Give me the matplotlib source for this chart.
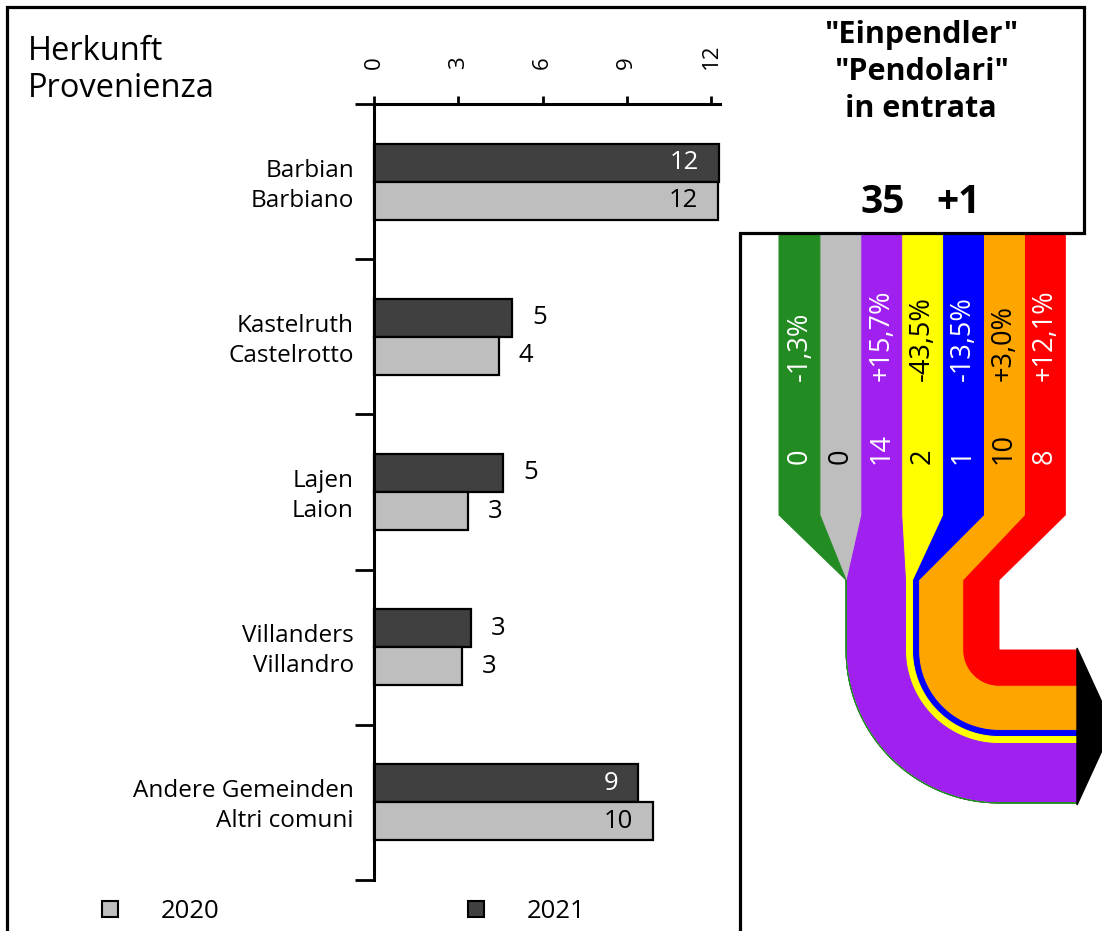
import numpy as np
import matplotlib
matplotlib.use("Agg")
import matplotlib.pyplot as plt
from matplotlib.patches import Polygon, Rectangle

plt.rcParams["font.family"] = ["Open Sans", "DejaVu Sans"]

# bar chart: origin of commuters
places_de = ["Barbian", "Kastelruth", "Lajen", "Villanders", "Andere Gemeinden"]
places_it = ["Barbiano", "Castelrotto", "Laion", "Villandro", "Altri comuni"]
val_2020 = [12.24, 4.45, 3.35, 3.13, 9.93]
val_2021 = [12.28, 4.91, 4.59, 3.45, 9.40]
x_ticks = [0, 3, 6, 9, 12]
years = ["2020", "2021"]

# flow diagram: incoming commuters by band
flow_colors = ["#228B22", "#BEBEBE", "#A020F0", "#FFFF00", "#0000FF", "#FFA500", "#FF0000"]
flow_text = ["white", "black", "white", "black", "white", "black", "white"]
flow_values = [0, 0, 13.6, 1.6, 1.4, 10.1, 8.3]
flow_change = ["-1,3%", "", "+15,7%", "-43,5%", "-13,5%", "+3,0%", "+12,1%"]
total_2021 = 35
total_change = "+1"

DARK, LIGHT = "#404040", "#BEBEBE"
W, H = 1102, 931

fig = plt.figure(figsize=(W / 100, H / 100), dpi=100)

# overlay in pixel coordinates for frame, titles and the flow diagram
ov = fig.add_axes([0, 0, 1, 1], zorder=0)
ov.set_xlim(0, W)
ov.set_ylim(H, 0)
ov.axis("off")

ov.plot([7, 7, 1084, 1084, 740, 740], [H + 5, 7, 7, 233, 233, H + 5],
        color="black", lw=2.3, solid_joinstyle="miter")

ov.text(28, 60, "Herkunft", fontsize=23.5, va="baseline")
ov.text(28, 97, "Provenienza", fontsize=23.5, va="baseline")

ov.text(921, 43, '"Einpendler"', fontsize=22, fontweight="bold", ha="center", va="baseline")
ov.text(921, 80, '"Pendolari"', fontsize=22, fontweight="bold", ha="center", va="baseline")
ov.text(921, 117, "in entrata", fontsize=22, fontweight="bold", ha="center", va="baseline")
ov.text(883, 213, str(total_2021), fontsize=28, fontweight="bold", ha="center", va="baseline")
ov.text(959, 213, total_change, fontsize=28, fontweight="bold", ha="center", va="baseline")

# flow bands
top_y, straight_y, merge_y, bend_y = 235, 515, 580, 650
band_left, band_w = 779, 40.9
cx, end_x = 999, 1077
scale = 4.37
start = cx - scale * sum(flow_values)
t = np.linspace(0, np.pi / 2, 60)

polys = []
cum = start
for i, v in enumerate(flow_values):
    xl = band_left + i * band_w
    xr = xl + band_w
    bl, br = cum, cum + scale * v
    cum = br
    r_out, r_in = cx - bl, cx - br
    inner = list(zip(cx - r_in * np.cos(t), bend_y + r_in * np.sin(t)))
    outer = list(zip(cx - r_out * np.cos(t), bend_y + r_out * np.sin(t)))[::-1]
    pts = ([(xl, top_y), (xr, top_y), (xr, straight_y), (br, merge_y), (br, bend_y)]
           + inner + [(end_x, bend_y + r_in), (end_x, bend_y + r_out)]
           + outer + [(bl, merge_y), (xl, straight_y)])
    polys.append(pts)

for pts, c in reversed(list(zip(polys, flow_colors))):
    ov.add_patch(Polygon(pts, closed=True, fc=c, ec=c, lw=0.7))

r_max = cx - start
mid = bend_y + r_max / 2
ov.add_patch(Polygon([(end_x, bend_y - 2), (end_x + 36, mid), (end_x, bend_y + r_max + 2)],
                     closed=True, fc="black", ec="black", lw=1))

for i, (v, ch, tc) in enumerate(zip(flow_values, flow_change, flow_text)):
    xc = band_left + (i + 0.5) * band_w
    if ch:
        ov.text(xc, 381, ch, rotation=90, ha="center", va="bottom", color=tc, fontsize=19.5)
    ov.text(xc, 464, str(round(v)), rotation=90, ha="center", va="bottom", color=tc, fontsize=19.5)

# legend
for xr_, col, lab in zip([102, 468], [LIGHT, DARK], years):
    ov.add_patch(Rectangle((xr_, 901), 16, 16, fc=col, ec="black", lw=1.5))
    ov.text(xr_ + 59, 918, lab, fontsize=18.5, va="baseline")

# bar chart axes
x0, x12 = 374, 711
ppu = (x12 - x0) / 12
ax = fig.add_axes([x0 / W, (H - 880) / H, (720 - x0) / W, (880 - 104) / H], zorder=2)
ax.patch.set_alpha(0)
ax.set_xlim(0, (720 - x0) / ppu)
ax.set_ylim(len(places_de) - 0.5, -0.5)

y = np.arange(len(places_de))
hb = 0.245
ax.barh(y - hb / 2, val_2021, height=hb, color=DARK, edgecolor="black", lw=1.6, clip_on=False)
ax.barh(y + hb / 2, val_2020, height=hb, color=LIGHT, edgecolor="black", lw=1.6, clip_on=False)

for vals, off, inside_col in [(val_2021, -hb / 2, "white"), (val_2020, hb / 2, "black")]:
    for i, v in enumerate(vals):
        lab = str(round(v))
        if v > 6:
            ax.annotate(lab, (v, i + off), xytext=(-20, 0), textcoords="offset pixels",
                        ha="right", va="center", color=inside_col, fontsize=18.5)
        else:
            ax.annotate(lab, (v, i + off), xytext=(20, 0), textcoords="offset pixels",
                        ha="left", va="center", color="black", fontsize=18.5)

for i, (de, it) in enumerate(zip(places_de, places_it)):
    ax.annotate(de, (0, i), xytext=(-20, 5), textcoords="offset pixels",
                ha="right", va="baseline", fontsize=17.5, annotation_clip=False)
    ax.annotate(it, (0, i), xytext=(-20, -25), textcoords="offset pixels",
                ha="right", va="baseline", fontsize=17.5, annotation_clip=False)

ax.xaxis.tick_top()
ax.set_xticks(x_ticks)
ax.set_xticklabels([str(v) for v in x_ticks])
ax.tick_params(axis="x", direction="out", length=6, width=2, pad=19, labelsize=16, labelrotation=90)
ax.set_yticks(np.arange(-0.5, len(places_de), 1))
ax.set_yticklabels([])
ax.tick_params(axis="y", direction="out", length=14, width=2)
for side in ["right", "bottom"]:
    ax.spines[side].set_visible(False)
for side in ["top", "left"]:
    ax.spines[side].set_linewidth(2.2)

fig.savefig("out.png", dpi=100)
